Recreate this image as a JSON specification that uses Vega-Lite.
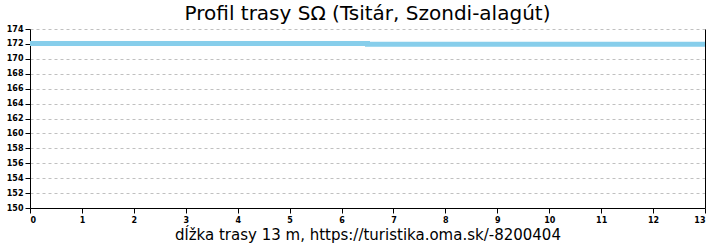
{
  "$schema": "https://vega.github.io/schema/vega-lite/v6.json",
  "autosize": "none",
  "width": 675,
  "height": 179,
  "padding": {"left": 30, "top": 29, "right": 15, "bottom": 42},
  "background": "white",
  "title": {"text": "Profil trasy SΩ (Tsitár, Szondi-alagút)", "font": "DejaVu Sans", "fontSize": 20, "fontWeight": "normal", "color": "black", "anchor": "middle", "offset": 1},
  "data": {"values": [
    {"d": 0, "ele": 172.05},
    {"d": 6.5, "ele": 171.95},
    {"d": 13, "ele": 171.95}
  ]},
  "config": {
    "view": {"stroke": null},
    "axis": {"labelFont": "DejaVu Sans", "labelFontSize": 8, "labelFontWeight": "bold", "labelColor": "black", "domainColor": "black", "tickColor": "black", "titleFont": "DejaVu Sans", "titleFontWeight": "normal", "titleColor": "black"}
  },
  "layer": [
    {
      "mark": {"type": "line", "interpolate": "step-after", "color": "#87CEEB", "strokeWidth": 5},
      "encoding": {
        "x": {"field": "d", "type": "quantitative", "scale": {"domain": [0, 13], "nice": false, "zero": false},
          "axis": {"values": [0,1,2,3,4,5,6,7,8,9,10,11,12,13], "format": "d", "grid": false, "title": "dĺžka trasy 13 m, https://turistika.oma.sk/-8200404", "titleFontSize": 15, "titlePadding": 3, "tickSize": 5, "labelPadding": 3}},
        "y": {"field": "ele", "type": "quantitative", "scale": {"domain": [150, 174], "nice": false, "zero": false},
          "axis": {"values": [150,152,154,156,158,160,162,164,166,168,170,172,174], "format": "d", "title": null, "grid": true, "gridColor": "#c0c0c0", "gridDash": [3, 3], "tickSize": 5, "labelPadding": 2}}
      }
    },
    {
      "mark": {"type": "line", "opacity": 0},
      "encoding": {
        "x": {"field": "d", "type": "quantitative", "scale": {"domain": [0, 13], "nice": false, "zero": false}},
        "y": {"field": "ele", "type": "quantitative", "scale": {"domain": [150, 174], "nice": false, "zero": false},
          "axis": {"orient": "right", "labels": false, "ticks": false, "grid": false, "title": null}}
      }
    }
  ],
  "resolve": {"axis": {"y": "independent"}}
}
